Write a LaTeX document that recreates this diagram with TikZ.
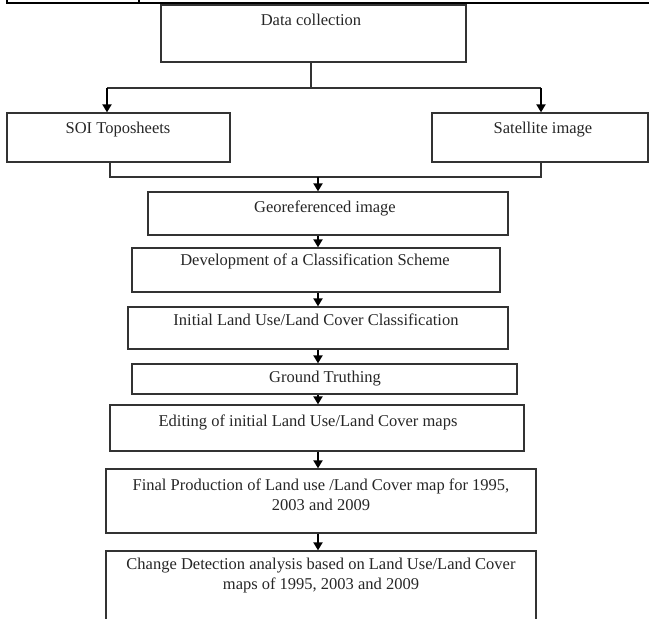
\documentclass[tikz,border=0pt]{standalone}
\usepackage{fontspec}
\setmainfont{Liberation Serif}
\usetikzlibrary{arrows.meta}
\begin{document}
\begin{tikzpicture}[x=1pt,y=-1pt,
 box/.style={draw=black!80, line width=1.3pt, inner sep=0pt},
 lbl/.style={font=\fontsize{16.5}{20}\selectfont, text=black!85, align=center, inner sep=0pt},
 conn/.style={draw=black!80, line width=1.3pt},
 arr/.style={draw=black, line width=2.7pt, -{Triangle[length=8pt,width=9pt]}},
 rulestyle/.style={draw=black, line width=1.6pt}]
\useasboundingbox (0,0) rectangle (649,619);
% top table fragment
\draw[rulestyle] (7,0) -- (7,3) -- (649,3);
\draw[rulestyle] (139,0) -- (139,3);
% boxes
\node[box, minimum width=305, minimum height=57] (data) at (313.5,33.5) {};
\node[box, minimum width=223, minimum height=49] (soi)  at (118.5,137.5) {};
\node[box, minimum width=216, minimum height=49] (sat)  at (540,137.5) {};
\node[box, minimum width=360, minimum height=43] (geo)  at (328,213.5) {};
\node[box, minimum width=368, minimum height=44] (dev)  at (316,270) {};
\node[box, minimum width=380, minimum height=42] (init) at (318,328) {};
\node[box, minimum width=385, minimum height=30] (gt)   at (324.5,379) {};
\node[box, minimum width=414, minimum height=46] (edit) at (317,428) {};
\node[box, minimum width=430, minimum height=64] (fin)  at (321,501) {};
\node[box, minimum width=430, minimum height=79] (chg)  at (321,590.5) {};
% labels
\node[lbl, anchor=base] (tdata) at (311,25) {Data collection};
\node[lbl, anchor=base] (tsoi)  at (118,133) {SOI Toposheets};
\node[lbl, anchor=base] (tsat)  at (543,133) {Satellite image};
\node[lbl, anchor=base] (tgeo)  at (325,212) {Georeferenced image};
\node[lbl, anchor=base] (tdev)  at (315,265) {Development of a Classification Scheme};
\node[lbl, anchor=base] (tinit) at (316,325) {Initial Land Use/Land Cover Classification};
\node[lbl, anchor=base] (tgt)   at (325,382) {Ground Truthing};
\node[lbl, anchor=base] (tedit) at (308,426) {Editing of initial Land Use/Land Cover maps};
\node[lbl, anchor=north] (tfin) at (321,478.5) {Final Production of Land use /Land Cover map for 1995,\\2003 and 2009};
\node[lbl, anchor=north] (tchg) at (321,557.5) {Change Detection analysis based on Land Use/Land Cover\\maps of 1995, 2003 and 2009};
% connectors
\coordinate (j1) at (311,88);
\coordinate (jl) at (107,88);
\coordinate (jr) at (541,88);
\draw[conn] (data.south -| j1) -- (j1);
\draw[conn] (jl) -- (jr);
\draw[arr] (jl) -- (jl |- soi.north);
\draw[arr] (jr) -- (jr |- sat.north);
\coordinate (kl) at (110,177);
\coordinate (kr) at (541,177);
\coordinate (km) at (318,177);
\draw[conn] (kl |- soi.south) -- (kl) -- (kr) -- (kr |- sat.south);
\draw[arr] (km) -- (km |- geo.north);
\coordinate (ax) at (318,0);
\draw[arr] (ax |- geo.south)  -- (ax |- dev.north);
\draw[arr] (ax |- dev.south)  -- (ax |- init.north);
\draw[arr] (ax |- init.south) -- (ax |- gt.north);
\draw[arr] (ax |- gt.south)   -- (ax |- edit.north);
\draw[arr] (ax |- edit.south) -- (ax |- fin.north);
\draw[arr] (ax |- fin.south)  -- (ax |- chg.north);
\end{tikzpicture}
\end{document}
